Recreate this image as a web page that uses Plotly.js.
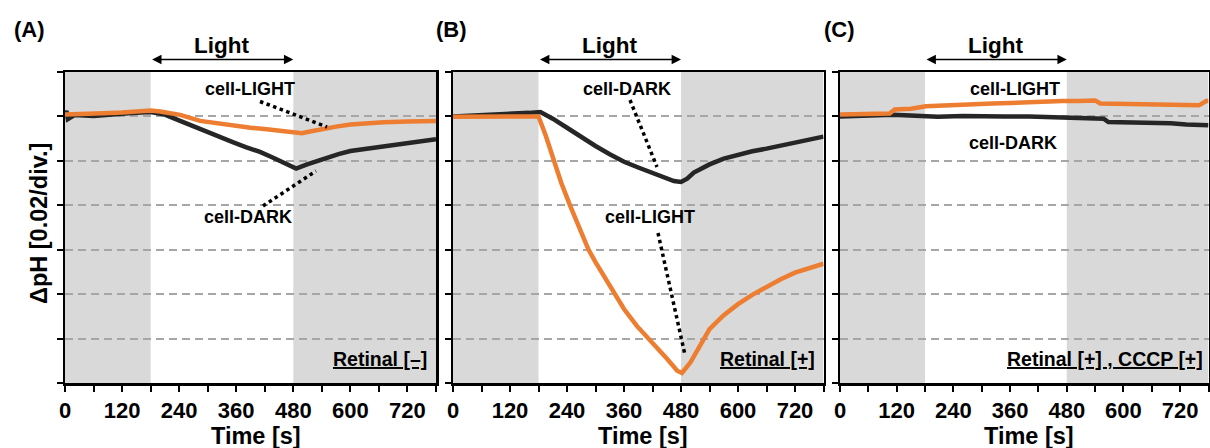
<!DOCTYPE html>
<html>
<head>
<meta charset="utf-8">
<script src="https://cdn.plot.ly/plotly-3.0.1.min.js"></script>
<style>
  html, body { margin: 0; padding: 0; background: #ffffff; }
  #chart { width: 1210px; height: 448px; }
</style>
</head>
<body>
<div id="chart"></div>
<script>
// ---------- DATA (ΔpH; 0.02 per division) ----------
const panelLabels = ['(A)', '(B)', '(C)'];
const conditionLabels = ['Retinal [\u2013]', 'Retinal [+]', 'Retinal [+] , CCCP [+]'];
const seriesNames = ['cell-LIGHT', 'cell-DARK'];

const xTickVals = [0, 60, 120, 180, 240, 300, 360, 420, 480, 540, 600, 660, 720, 780];
const xTickText = ['0', '', '120', '', '240', '', '360', '', '480', '', '600', '', '720', ''];
const yTickVals = [0.02, 0, -0.02, -0.04, -0.06, -0.08, -0.10, -0.12];
const lightOn = 180, lightOff = 480, tEnd = 780;

// Panel A  (Retinal [-])
const A_light_t = [0, 40, 80, 120, 160, 180, 200, 220, 242, 284, 320, 354, 390, 424, 455, 480, 498, 515, 537, 570, 600, 635, 670, 720, 775, 780];
const A_light_v = [0.0009, 0.0010, 0.0014, 0.0018, 0.0024, 0.0027, 0.0022, 0.0014, 0.0007, -0.0020, -0.0032, -0.0044, -0.0051, -0.0058, -0.0066, -0.0073, -0.0076, -0.0068, -0.0058, -0.0046, -0.0036, -0.0030, -0.0026, -0.0023, -0.0021, -0.0021];
const A_dark_t = [0, 3, 6, 20, 60, 100, 140, 180, 210, 242, 284, 320, 354, 380, 410, 440, 460, 486, 509, 530, 551, 575, 600, 635, 670, 700, 726, 755, 780];
const A_dark_v = [0.0000, 0.0025, -0.0012, 0.0006, 0.0002, 0.0010, 0.0015, 0.0020, 0.0008, -0.0020, -0.0058, -0.0088, -0.0117, -0.0138, -0.0160, -0.0188, -0.0210, -0.0235, -0.0216, -0.0200, -0.0185, -0.0170, -0.0156, -0.0145, -0.0133, -0.0126, -0.0118, -0.0111, -0.0103];

// Panel B  (Retinal [+])
const B_light_t = [0, 40, 80, 120, 160, 180, 195, 211, 228, 247, 268, 285, 300, 331, 360, 387, 420, 451, 472, 482, 500, 520, 540, 570, 600, 630, 660, 690, 720, 750, 777, 780];
const B_light_v = [-0.0002, -0.0002, -0.0003, -0.0001, -0.0001, 0.0000, -0.0085, -0.0194, -0.0300, -0.0404, -0.0510, -0.0598, -0.0656, -0.0763, -0.0867, -0.0943, -0.1018, -0.1092, -0.1145, -0.1155, -0.1107, -0.1030, -0.0957, -0.0895, -0.0845, -0.0803, -0.0766, -0.0733, -0.0703, -0.0683, -0.0665, -0.0663];
const B_dark_t = [0, 40, 80, 120, 160, 184, 210, 240, 270, 300, 330, 360, 390, 420, 445, 465, 480, 493, 507, 540, 570, 600, 630, 660, 690, 720, 750, 773, 780];
const B_dark_v = [0.0000, 0.0003, 0.0005, 0.0008, 0.0016, 0.0020, -0.0010, -0.0051, -0.0093, -0.0133, -0.0170, -0.0204, -0.0230, -0.0253, -0.0272, -0.0291, -0.0295, -0.0280, -0.0253, -0.0216, -0.0190, -0.0171, -0.0157, -0.0145, -0.0131, -0.0118, -0.0105, -0.0091, -0.0091];

// Panel C  (Retinal [+], CCCP [+])
const C_light_t = [0, 50, 105, 116, 150, 182, 220, 253, 290, 323, 360, 393, 430, 470, 505, 540, 551, 600, 639, 690, 744, 760, 775, 780];
const C_light_v = [0.0009, 0.0010, 0.0013, 0.0031, 0.0035, 0.0046, 0.0050, 0.0054, 0.0055, 0.0058, 0.0060, 0.0064, 0.0066, 0.0069, 0.0070, 0.0072, 0.0058, 0.0057, 0.0055, 0.0055, 0.0054, 0.0050, 0.0069, 0.0069];
const C_dark_t = [0, 50, 112, 160, 207, 260, 300, 347, 400, 474, 520, 558, 568, 620, 663, 700, 733, 765, 780];
const C_dark_v = [0.0000, 0.0005, 0.0008, 0.0003, -0.0001, 0.0002, 0.0003, 0.0000, 0.0000, -0.0003, -0.0006, -0.0010, -0.0025, -0.0027, -0.0028, -0.0031, -0.0036, -0.0040, -0.0040];

// ---------- STYLE ----------
const ORANGE = '#ED7D31';
const DARK = '#262626';
const GRAY = '#d9d9d9';
const FONT = 'Liberation Sans, Arial, Helvetica, sans-serif';
const W = 1210, H = 448;
const px = v => v / W;
const py = v => 1 - v / H;

const xDomains = [[px(65), px(436)], [px(453), px(823.5)], [px(840), px(1208.5)]];
const yDomain = [py(383), py(72)];

const series = [
  [A_light_t, A_light_v, A_dark_t, A_dark_v],
  [B_light_t, B_light_v, B_dark_t, B_dark_v],
  [C_light_t, C_light_v, C_dark_t, C_dark_v]
];

const traces = [];
const shapes = [];
const annotations = [];
const layout = {
  width: W, height: H,
  margin: {l: 0, r: 0, t: 0, b: 0},
  paper_bgcolor: '#ffffff',
  plot_bgcolor: '#ffffff',
  showlegend: false,
  font: {family: FONT, color: '#000000'}
};

series.forEach((s, i) => {
  const n = i === 0 ? '' : String(i + 1);
  const xa = 'x' + n, ya = 'y' + n;
  traces.push({x: s[2], y: s[3], xaxis: xa, yaxis: ya, type: 'scatter', mode: 'lines',
               name: seriesNames[1], line: {color: DARK, width: 4.5}, hoverinfo: 'skip'});
  traces.push({x: s[0], y: s[1], xaxis: xa, yaxis: ya, type: 'scatter', mode: 'lines',
               name: seriesNames[0], line: {color: ORANGE, width: 4.5}, hoverinfo: 'skip'});

  layout['xaxis' + n] = {
    domain: xDomains[i], anchor: ya, range: [0, tEnd], fixedrange: true,
    showgrid: false, zeroline: false,
    showline: true, linecolor: '#000000', linewidth: 2.5, mirror: true,
    ticks: 'outside', ticklen: 6, tickwidth: 2, tickcolor: '#000000',
    tickmode: 'array', tickvals: xTickVals, ticktext: xTickText,
    tickfont: {family: FONT, size: 22, weight: 'bold', color: '#000000'}
  };
  layout['yaxis' + n] = {
    domain: yDomain, anchor: xa, range: [-0.12, 0.02], fixedrange: true,
    showgrid: true, gridcolor: '#a6a6a6', gridwidth: 2, griddash: '8px,5px',
    zeroline: false,
    showline: true, linecolor: '#000000', linewidth: 2.5, mirror: true,
    ticks: 'outside', ticklen: 6, tickwidth: 2, tickcolor: '#000000',
    tickmode: 'array', tickvals: yTickVals, showticklabels: false
  };

  // dark periods shading
  shapes.push({type: 'rect', xref: xa, yref: ya + ' domain', x0: 0, x1: lightOn, y0: 0, y1: 1,
               fillcolor: GRAY, line: {width: 0}, layer: 'below'});
  shapes.push({type: 'rect', xref: xa, yref: ya + ' domain', x0: lightOff, x1: tEnd, y0: 0, y1: 1,
               fillcolor: GRAY, line: {width: 0}, layer: 'below'});

  // Light label and double arrow
  annotations.push({xref: xa, yref: 'paper', x: (lightOn + lightOff) / 2, y: py(46),
                    text: '<b>Light</b>', showarrow: false, xanchor: 'center', yanchor: 'middle',
                    font: {family: FONT, size: 22.5, color: '#000000'}});
  annotations.push({xref: xa, yref: 'paper', axref: xa, ayref: 'paper',
                    x: lightOff, y: py(59.5), ax: lightOn, ay: py(59.5),
                    text: '', showarrow: true, arrowside: 'end+start',
                    arrowhead: 2, arrowsize: 1.1, arrowwidth: 1.7, arrowcolor: '#000000',
                    standoff: 0, startstandoff: 0});

  // panel letters
  annotations.push({xref: 'paper', yref: 'paper', x: px([12, 434, 822][i]), y: py(30),
                    text: '<b>' + panelLabels[i] + '</b>', showarrow: false,
                    xanchor: 'left', yanchor: 'middle',
                    font: {family: FONT, size: 22, color: '#000000'}});

  // condition label
  annotations.push({xref: 'paper', yref: 'paper', x: px([429, 817, 1205][i]), y: py(359),
                    text: '<b><u>' + conditionLabels[i] + '</u></b>', showarrow: false,
                    xanchor: 'right', yanchor: 'middle',
                    font: {family: FONT, size: 19.5, color: '#000000'}});

  // x title
  annotations.push({xref: 'paper', yref: 'paper',
                    x: (xDomains[i][0] + xDomains[i][1]) / 2 + px(5), y: py(436),
                    text: '<b>Time [s]</b>', showarrow: false, xanchor: 'center', yanchor: 'middle',
                    font: {family: FONT, size: 23.5, color: '#000000'}});
});

// y title
annotations.push({xref: 'paper', yref: 'paper', x: px(39), y: py(224), textangle: -90,
                  text: '<b>\u0394pH [0.02/div.]</b>', showarrow: false,
                  xanchor: 'center', yanchor: 'middle',
                  font: {family: FONT, size: 23.5, color: '#000000'}});

// series labels
const seriesLabelPos = [
  [seriesNames[0], 250, 89], [seriesNames[1], 248, 216.5],
  [seriesNames[1], 627, 89], [seriesNames[0], 650, 216.5],
  [seriesNames[0], 1015, 89], [seriesNames[1], 1013, 142.5]
];
seriesLabelPos.forEach(p => {
  annotations.push({xref: 'paper', yref: 'paper', x: px(p[1]), y: py(p[2]),
                    text: '<b>' + p[0] + '</b>', showarrow: false, xanchor: 'center', yanchor: 'middle',
                    font: {family: FONT, size: 18, color: '#000000'}});
});

// dotted leader lines
const leaders = [
  [260, 101.5, 327, 127], [263, 206, 316, 171],
  [630, 100, 657, 167], [658, 233, 685, 355]
];
leaders.forEach(l => {
  shapes.push({type: 'line', xref: 'paper', yref: 'paper',
               x0: px(l[0]), y0: py(l[1]), x1: px(l[2]), y1: py(l[3]),
               line: {color: '#000000', width: 3.5, dash: 'dot'}, layer: 'above'});
});

layout.shapes = shapes;
layout.annotations = annotations;

Plotly.newPlot('chart', traces, layout, {staticPlot: true, displayModeBar: false});
</script>
</body>
</html>
